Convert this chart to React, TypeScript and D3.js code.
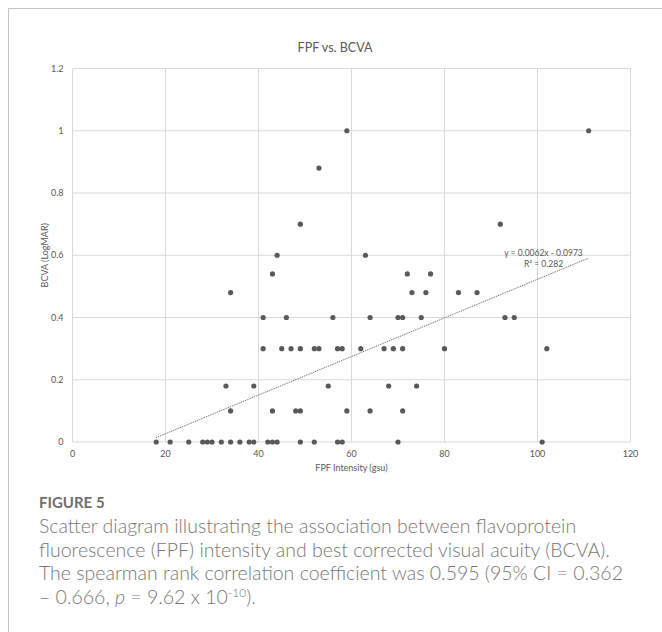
import { useEffect, useRef } from 'react'
import * as d3 from 'd3'

// FPF intensity (gsu) vs BCVA (LogMAR), one entry per patient
const fpfIntensity = [
  18, 21, 25, 28, 29, 30, 32, 34, 36, 38, 39, 42, 43, 44, 49, 52, 57, 58, 70, 101,
  34, 43, 48, 49, 59, 64, 71,
  33, 39, 55, 68, 74,
  41, 45, 47, 49, 52, 53, 57, 58, 62, 67, 69, 71, 80, 102,
  41, 46, 56, 64, 70, 71, 75, 93, 95,
  34, 73, 76, 83, 87,
  43, 72, 77,
  44, 63,
  49, 92,
  53,
  59, 111,
]
const bcva = [
  0, 0, 0, 0, 0, 0, 0, 0, 0, 0, 0, 0, 0, 0, 0, 0, 0, 0, 0, 0,
  0.1, 0.1, 0.1, 0.1, 0.1, 0.1, 0.1,
  0.18, 0.18, 0.18, 0.18, 0.18,
  0.3, 0.3, 0.3, 0.3, 0.3, 0.3, 0.3, 0.3, 0.3, 0.3, 0.3, 0.3, 0.3, 0.3,
  0.4, 0.4, 0.4, 0.4, 0.4, 0.4, 0.4, 0.4, 0.4,
  0.48, 0.48, 0.48, 0.48, 0.48,
  0.54, 0.54, 0.54,
  0.6, 0.6,
  0.7, 0.7,
  0.88,
  1, 1,
]

const xTicks = [0, 20, 40, 60, 80, 100, 120]
const yTicks = [0, 0.2, 0.4, 0.6, 0.8, 1, 1.2]
const trendSlope = 0.0062
const trendIntercept = -0.0973
const rSquared = '0.282'

const chartTitle = 'FPF vs. BCVA'
const xTitle = 'FPF Intensity (gsu)'
const yTitle = 'BCVA (LogMAR)'
const figureLabel = 'FIGURE 5'
const captionLines = [
  'Scatter diagram illustrating the association between flavoprotein',
  'fluorescence (FPF) intensity and best corrected visual acuity (BCVA).',
  'The spearman rank correlation coefficient was 0.595 (95% CI = 0.362',
]

export default function App() {
  const svgRef = useRef<SVGSVGElement>(null)
  const width = 662
  const height = 632

  useEffect(() => {
    if (!svgRef.current) return
    const svg = d3.select(svgRef.current)
    svg.selectAll('*').remove()

    const plot = { left: 72.5, right: 630.5, top: 68.5, bottom: 442 }
    const x = d3.scaleLinear().domain([0, 120]).range([plot.left, plot.right])
    const y = d3.scaleLinear().domain([0, 1.2]).range([plot.bottom, plot.top])
    const axisColor = '#595959'
    const gridColor = '#d9d9d9'
    const chartFont = 'Lato, sans-serif'

    // outer frame (only top/left edges visible)
    svg.append('line').attr('x1', 8.5).attr('x2', width).attr('y1', 8.5).attr('y2', 8.5)
      .attr('stroke', '#c4c4c4').attr('stroke-width', 1)
    svg.append('line').attr('x1', 8.5).attr('x2', 8.5).attr('y1', 8.5).attr('y2', height)
      .attr('stroke', '#c4c4c4').attr('stroke-width', 1)

    // gridlines
    const g = svg.append('g')
    yTicks.forEach(t => {
      g.append('line')
        .attr('x1', plot.left).attr('x2', plot.right)
        .attr('y1', y(t)).attr('y2', y(t))
        .attr('stroke', gridColor).attr('stroke-width', 1)
    })
    xTicks.forEach(t => {
      g.append('line')
        .attr('x1', x(t)).attr('x2', x(t))
        .attr('y1', plot.top).attr('y2', plot.bottom)
        .attr('stroke', gridColor).attr('stroke-width', 1)
    })

    // tick labels
    yTicks.forEach(t => {
      g.append('text')
        .attr('x', plot.left - 9)
        .attr('y', y(t))
        .attr('dy', '0.35em')
        .attr('text-anchor', 'end')
        .attr('fill', axisColor)
        .attr('font-family', chartFont)
        .attr('font-size', '9px')
        .text(String(t))
    })
    xTicks.forEach(t => {
      g.append('text')
        .attr('x', x(t))
        .attr('y', plot.bottom + 12)
        .attr('dy', '0.35em')
        .attr('text-anchor', 'middle')
        .attr('fill', axisColor)
        .attr('font-family', chartFont)
        .attr('font-size', '9px')
        .text(String(t))
    })

    // titles
    svg.append('text')
      .attr('x', 335).attr('y', 48).attr('dy', '0.35em')
      .attr('text-anchor', 'middle')
      .attr('fill', axisColor)
      .attr('font-family', chartFont)
      .attr('font-size', '12.5px')
      .text(chartTitle)

    svg.append('text')
      .attr('x', (plot.left + plot.right) / 2).attr('y', 468).attr('dy', '0.35em')
      .attr('text-anchor', 'middle')
      .attr('fill', axisColor)
      .attr('font-family', chartFont)
      .attr('font-size', '9px')
      .text(xTitle)

    svg.append('text')
      .attr('transform', `translate(45,${(plot.top + plot.bottom) / 2}) rotate(-90)`)
      .attr('dy', '0.35em')
      .attr('text-anchor', 'middle')
      .attr('fill', axisColor)
      .attr('font-family', chartFont)
      .attr('font-size', '9px')
      .text(yTitle)

    // linear trend line across data range
    const [xMin, xMax] = d3.extent(fpfIntensity) as [number, number]
    const trend = d3.line<number>()
      .x(d => x(d))
      .y(d => y(trendSlope * d + trendIntercept))
    g.append('path')
      .datum([xMin, xMax])
      .attr('fill', 'none')
      .attr('stroke', axisColor)
      .attr('stroke-width', 1)
      .attr('stroke-dasharray', '1,1')
      .attr('d', trend)

    // scatter points
    g.selectAll('circle.pt')
      .data(fpfIntensity.map((v, i) => [v, bcva[i]]))
      .enter()
      .append('circle')
      .attr('class', 'pt')
      .attr('cx', d => x(d[0]))
      .attr('cy', d => y(d[1]))
      .attr('r', 2.6)
      .attr('fill', axisColor)

    // equation label
    const eq = svg.append('text')
      .attr('text-anchor', 'middle')
      .attr('fill', axisColor)
      .attr('font-family', chartFont)
      .attr('font-size', '8.5px')
    eq.append('tspan').attr('x', 543.5).attr('y', 256)
      .text(`y = ${trendSlope}x - ${Math.abs(trendIntercept)}`)
    eq.append('tspan').attr('x', 543.5).attr('y', 267)
      .text(`R² = ${rSquared}`)

    // caption
    const capFont = 'Lato, sans-serif'
    svg.append('text')
      .attr('x', 39).attr('y', 508)
      .attr('fill', '#6e6e6e')
      .attr('font-family', capFont)
      .attr('font-size', '15px')
      .attr('font-weight', 700)
      .text(figureLabel)

    captionLines.forEach((line, i) => {
      svg.append('text')
        .attr('x', 39).attr('y', 533 + i * 23.6)
        .attr('fill', '#777')
        .attr('font-family', capFont)
        .attr('font-size', '19.5px')
        .attr('font-weight', 300)
        .text(line)
    })
    const last = svg.append('text')
      .attr('x', 39).attr('y', 533 + 3 * 23.6)
      .attr('fill', '#777')
      .attr('font-family', capFont)
      .attr('font-size', '19.5px')
      .attr('font-weight', 300)
    last.append('tspan').text('– 0.666, ')
    last.append('tspan').attr('font-style', 'italic').text('p')
    last.append('tspan').text(' = 9.62 x 10')
    last.append('tspan').attr('dy', -7).attr('font-size', '12px').text('-10')
    last.append('tspan').attr('dy', 7).text(').')
  }, [])

  return (
    <svg
      ref={svgRef}
      width={width}
      height={height}
      style={{ position: 'absolute', left: 0, top: 0, background: '#fff' }}
    />
  )
}
